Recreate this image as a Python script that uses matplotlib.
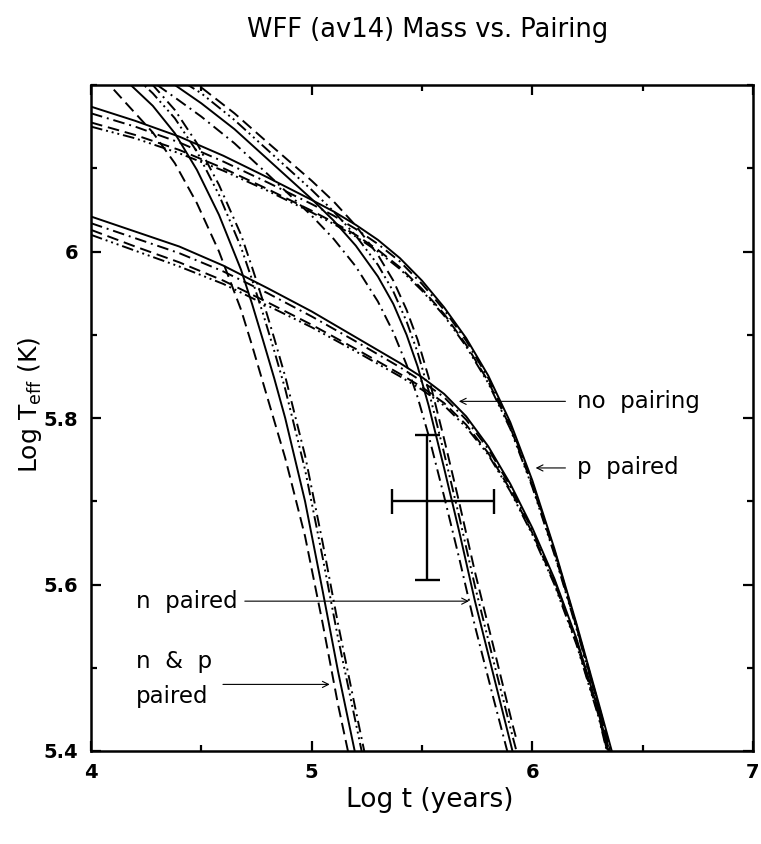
import matplotlib
matplotlib.use('Agg')
import matplotlib.pyplot as plt
from matplotlib.ticker import MultipleLocator

# cooling curves: log t (years) -> log Teff (K)
# one x grid per pairing case, four masses (line styles) each

x_p_paired = [4.0, 4.2, 4.4, 4.6, 4.8, 5.0, 5.1, 5.2, 5.3, 5.4, 5.5, 5.6, 5.7, 5.8, 5.9, 6.0, 6.1, 6.2, 6.3, 6.36]
p_paired_solid = [6.174, 6.157, 6.138, 6.115, 6.089, 6.062, 6.048, 6.032, 6.014, 5.992, 5.965, 5.933, 5.896, 5.851, 5.795, 5.725, 5.643, 5.553, 5.458, 5.400]
p_paired_dashdot = [6.166, 6.150, 6.131, 6.108, 6.083, 6.057, 6.043, 6.027, 6.009, 5.988, 5.961, 5.930, 5.893, 5.848, 5.792, 5.722, 5.641, 5.551, 5.456, 5.396]
p_paired_dashed = [6.155, 6.140, 6.122, 6.100, 6.075, 6.049, 6.035, 6.020, 6.002, 5.981, 5.955, 5.925, 5.888, 5.844, 5.789, 5.719, 5.638, 5.549, 5.454, 5.392]
p_paired_dddot = [6.150, 6.136, 6.118, 6.097, 6.073, 6.047, 6.033, 6.018, 6.000, 5.979, 5.953, 5.923, 5.886, 5.842, 5.787, 5.717, 5.636, 5.547, 5.452, 5.388]

x_no_pairing = [4.0, 4.2, 4.4, 4.6, 4.8, 5.0, 5.2, 5.4, 5.5, 5.6, 5.7, 5.8, 5.9, 6.0, 6.1, 6.2, 6.3, 6.345]
no_pairing_solid = [6.042, 6.024, 6.006, 5.983, 5.956, 5.928, 5.897, 5.866, 5.849, 5.829, 5.802, 5.766, 5.721, 5.668, 5.607, 5.535, 5.448, 5.400]
no_pairing_dashdot = [6.034, 6.016, 5.998, 5.976, 5.950, 5.922, 5.892, 5.861, 5.844, 5.825, 5.798, 5.763, 5.718, 5.665, 5.605, 5.533, 5.446, 5.397]
no_pairing_dashed = [6.026, 6.006, 5.987, 5.965, 5.939, 5.912, 5.883, 5.853, 5.837, 5.818, 5.792, 5.758, 5.714, 5.662, 5.602, 5.530, 5.443, 5.394]
no_pairing_dddot = [6.020, 6.001, 5.982, 5.961, 5.935, 5.909, 5.880, 5.850, 5.834, 5.815, 5.789, 5.756, 5.712, 5.660, 5.600, 5.528, 5.441, 5.392]

x_n_paired = [4.3, 4.38, 4.5, 4.65, 4.8, 4.9, 5.0, 5.1, 5.2, 5.3, 5.37, 5.43, 5.48, 5.53, 5.6, 5.67, 5.74, 5.825, 5.91, 5.93]
n_paired_solid = [6.215, 6.200, 6.178, 6.147, 6.111, 6.087, 6.063, 6.037, 6.007, 5.970, 5.937, 5.900, 5.862, 5.815, 5.740, 5.662, 5.580, 5.490, 5.400, 5.380]
n_paired_dashdot = [6.200, 6.185, 6.162, 6.130, 6.093, 6.068, 6.043, 6.015, 5.982, 5.940, 5.903, 5.864, 5.825, 5.779, 5.706, 5.630, 5.550, 5.462, 5.376, 5.356]
n_paired_dashed = [6.230, 6.218, 6.197, 6.166, 6.131, 6.108, 6.085, 6.060, 6.031, 5.996, 5.965, 5.930, 5.894, 5.849, 5.775, 5.697, 5.615, 5.524, 5.432, 5.412]
n_paired_dddot = [6.225, 6.210, 6.190, 6.158, 6.122, 6.098, 6.074, 6.048, 6.019, 5.984, 5.952, 5.916, 5.879, 5.833, 5.758, 5.680, 5.598, 5.507, 5.418, 5.398]

x_np_paired = [4.05, 4.18, 4.28, 4.38, 4.48, 4.58, 4.68, 4.73, 4.78, 4.83, 4.88, 4.97, 5.05, 5.12, 5.195, 5.25]
np_paired_solid = [6.235, 6.200, 6.175, 6.142, 6.098, 6.044, 5.978, 5.937, 5.893, 5.848, 5.800, 5.700, 5.592, 5.495, 5.400, 5.330]
np_paired_dashed = [6.210, 6.172, 6.143, 6.106, 6.058, 6.000, 5.930, 5.887, 5.842, 5.797, 5.752, 5.658, 5.553, 5.455, 5.362, 5.290]
np_paired_dashdot = [6.260, 6.225, 6.200, 6.170, 6.130, 6.080, 6.020, 5.981, 5.940, 5.896, 5.850, 5.755, 5.650, 5.552, 5.455, 5.385]
np_paired_dddot = [6.250, 6.215, 6.190, 6.160, 6.120, 6.068, 6.005, 5.966, 5.925, 5.881, 5.835, 5.738, 5.632, 5.535, 5.440, 5.370]

# observed point with asymmetric errors
obs_logt = 5.524
obs_logt_err = [0.162, 0.302]
obs_logT = 5.70
obs_logT_err = [0.095, 0.08]

x_ticks = [4, 5, 6, 7]
x_ticklabels = ['4', '5', '6', '7']
y_ticks = [5.4, 5.6, 5.8, 6.0]
y_ticklabels = ['5.4', '5.6', '5.8', '6']

SOLID = '-'
DASHED = (0, (6, 3))
DASHDOT = (0, (6, 2.5, 1, 2.5))
DDDOT = (0, (6, 2, 1, 2, 1, 2, 1, 2))

fig = plt.figure(figsize=(7.61, 8.44), dpi=100)
ax = fig.add_axes([91 / 761, 1 - 751 / 844, 662 / 761, 666 / 844])

curves = [
    (x_p_paired, p_paired_solid, SOLID), (x_p_paired, p_paired_dashdot, DASHDOT),
    (x_p_paired, p_paired_dashed, DASHED), (x_p_paired, p_paired_dddot, DDDOT),
    (x_no_pairing, no_pairing_solid, SOLID), (x_no_pairing, no_pairing_dashdot, DASHDOT),
    (x_no_pairing, no_pairing_dashed, DASHED), (x_no_pairing, no_pairing_dddot, DDDOT),
    (x_n_paired, n_paired_solid, SOLID), (x_n_paired, n_paired_dashdot, DASHDOT),
    (x_n_paired, n_paired_dashed, DASHED), (x_n_paired, n_paired_dddot, DDDOT),
    (x_np_paired, np_paired_solid, SOLID), (x_np_paired, np_paired_dashed, DASHED),
    (x_np_paired, np_paired_dashdot, DASHDOT), (x_np_paired, np_paired_dddot, DDDOT),
]
for xs, ys, ls in curves:
    ax.plot(xs, ys, color='k', lw=1.4, linestyle=ls)

ax.errorbar(obs_logt, obs_logT,
            xerr=[[obs_logt_err[0]], [obs_logt_err[1]]],
            yerr=[[obs_logT_err[0]], [obs_logT_err[1]]],
            fmt='none', ecolor='k', elinewidth=1.7, capsize=9, capthick=1.7)

arrow = dict(arrowstyle='->', color='k', lw=0.8, shrinkA=0, shrinkB=0, mutation_scale=11)
lab = dict(fontsize=16.5, color='k', va='center', ha='left')

ax.annotate('', xy=(5.667, 5.82), xytext=(6.15, 5.82), arrowprops=arrow)
ax.text(6.204, 5.82, 'no  pairing', **lab)
ax.annotate('', xy=(6.015, 5.74), xytext=(6.15, 5.74), arrowprops=arrow)
ax.text(6.204, 5.74, 'p  paired', **lab)
ax.annotate('', xy=(5.713, 5.58), xytext=(4.697, 5.58), arrowprops=arrow)
ax.text(4.205, 5.58, 'n  paired', **lab)
ax.annotate('', xy=(5.082, 5.48), xytext=(4.598, 5.48), arrowprops=arrow)
ax.text(4.205, 5.508, 'n  &  p', **lab)
ax.text(4.205, 5.466, 'paired', **lab)

ax.set_xlim(4, 7)
ax.set_ylim(5.4, 6.2)
ax.xaxis.set_minor_locator(MultipleLocator(0.5))
ax.yaxis.set_minor_locator(MultipleLocator(0.1))
ax.set_xticks(x_ticks, x_ticklabels, fontsize=14, fontweight='bold')
ax.set_yticks(y_ticks, y_ticklabels, fontsize=14, fontweight='bold')
ax.tick_params(which='both', direction='in', top=True, right=True, width=1.6)
ax.tick_params(which='major', length=7, pad=9)
ax.tick_params(which='minor', length=4)
for sp in ax.spines.values():
    sp.set_linewidth(1.8)

fig.text(430 / 761, 1 - 800 / 844, 'Log t (years)', fontsize=19, ha='center', va='center')
fig.text(30 / 761, 1 - 405 / 844, r'Log T$_{\mathregular{eff}}$ (K)', fontsize=18,
         ha='center', va='center', rotation=90)
fig.text(428 / 761, 1 - 30 / 844, 'WFF (av14) Mass vs. Pairing', fontsize=18.5,
         ha='center', va='center')

fig.savefig('out.png', dpi=100)
